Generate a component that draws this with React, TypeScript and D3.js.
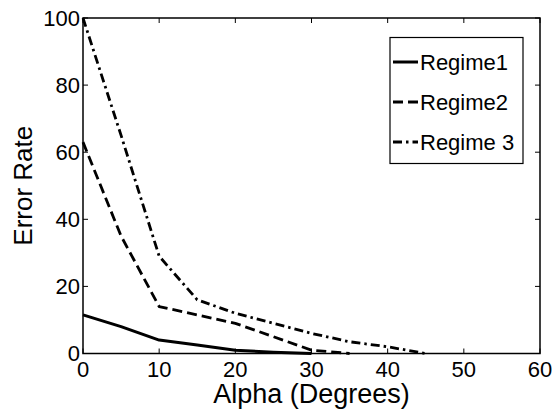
import React from "react";
import * as d3 from "d3";

const xTicks = [0, 10, 20, 30, 40, 50, 60];
const yTicks = [0, 20, 40, 60, 80, 100];

const regime1X = [0, 5, 10, 15, 20, 25, 30];
const regime1Y = [11.5, 8, 4, 2.5, 1, 0.4, 0];
const regime2X = [0, 5, 10, 15, 20, 25, 30, 35];
const regime2Y = [63, 35, 14, 11.5, 9, 5, 1, 0];
const regime3X = [0, 5, 10, 15, 20, 25, 30, 35, 40, 45];
const regime3Y = [100, 65, 29, 16, 12, 9, 6, 3.5, 2, 0];

const seriesNames = ["Regime1", "Regime2", "Regime 3"];

const W = 553;
const H = 409;
const margin = { left: 83, right: 13, top: 18, bottom: 55.5 };
const FONT = "'Liberation Sans', Arial, Helvetica, sans-serif";

export default function App() {
  const x = d3.scaleLinear().domain([0, 60]).range([margin.left, W - margin.right]);
  const y = d3.scaleLinear().domain([0, 100]).range([H - margin.bottom, margin.top]);
  const line = d3
    .line<[number, number]>()
    .x((d) => x(d[0]))
    .y((d) => y(d[1]));

  const series = [
    { name: seriesNames[0], xs: regime1X, ys: regime1Y, dash: "none", w: 3 },
    { name: seriesNames[1], xs: regime2X, ys: regime2Y, dash: "10,5", w: 2.8 },
    { name: seriesNames[2], xs: regime3X, ys: regime3Y, dash: "9,4,2.5,4", w: 2.8 },
  ];

  const x0 = x(0), x1 = x(60), y0 = y(0), y1 = y(100);
  const tl = 5;

  const legend = { x: 390, y: 37.5, w: 133, h: 126 };

  return (
    <svg
      width={W}
      height={H}
      style={{ position: "absolute", left: 0, top: 0, background: "#fff" }}
      fontFamily={FONT}
    >
      <rect x={0} y={0} width={W} height={H} fill="#fff" />
      {series.map((s) => (
        <path
          key={s.name}
          d={line(s.xs.map((v, i) => [v, s.ys[i]] as [number, number])) || ""}
          fill="none"
          stroke="#000"
          strokeWidth={s.w}
          strokeDasharray={s.dash}
          strokeLinejoin="round"
        />
      ))}
      {/* axes box */}
      <rect x={x0} y={y1} width={x1 - x0} height={y0 - y1} fill="none" stroke="#000" strokeWidth={1.5} />
      {xTicks.map((t) => (
        <g key={"xt" + t}>
          <line x1={x(t)} x2={x(t)} y1={y0} y2={y0 - tl} stroke="#000" strokeWidth={1} />
          <line x1={x(t)} x2={x(t)} y1={y1} y2={y1 + tl} stroke="#000" strokeWidth={1} />
          <text x={x(t)} y={y0 + 23} textAnchor="middle" fontSize={22} fill="#000">
            {t}
          </text>
        </g>
      ))}
      {yTicks.map((t) => (
        <g key={"yt" + t}>
          <line x1={x0} x2={x0 + tl} y1={y(t)} y2={y(t)} stroke="#000" strokeWidth={1} />
          <line x1={x1} x2={x1 - tl} y1={y(t)} y2={y(t)} stroke="#000" strokeWidth={1} />
          <text x={x0 - 3} y={y(t)} dy="0.36em" textAnchor="end" fontSize={22} fill="#000">
            {t}
          </text>
        </g>
      ))}
      <text x={(x0 + x1) / 2} y={403} textAnchor="middle" fontSize={27} fill="#000">
        Alpha (Degrees)
      </text>
      <text
        transform={`translate(${32},${(y0 + y1) / 2}) rotate(-90)`}
        textAnchor="middle"
        fontSize={26}
        fill="#000"
      >
        Error Rate
      </text>
      {/* legend */}
      <rect x={legend.x} y={legend.y} width={legend.w} height={legend.h} fill="#fff" stroke="#000" strokeWidth={1.2} />
      {series.map((s, i) => {
        const cy = 62 + i * 40;
        return (
          <g key={"lg" + s.name}>
            <line x1={393} x2={418} y1={cy} y2={cy} stroke="#000" strokeWidth={s.w} strokeDasharray={s.dash} />
            <text x={420} y={cy} dy="0.36em" fontSize={22} fill="#000">
              {s.name}
            </text>
          </g>
        );
      })}
    </svg>
  );
}
